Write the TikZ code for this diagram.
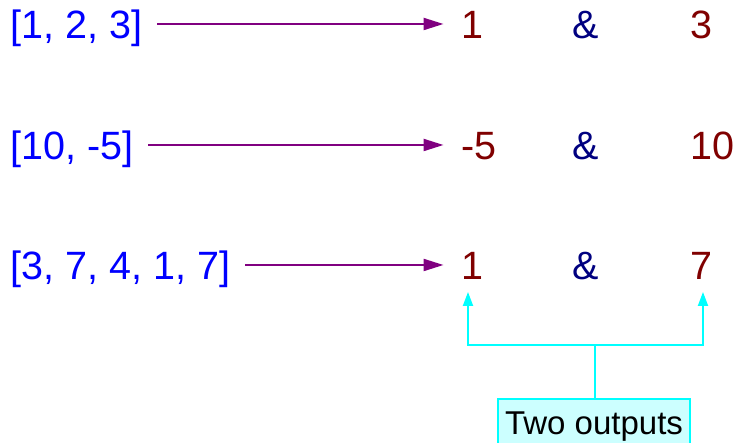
\documentclass[tikz,border=0pt]{standalone}
\usepackage{fontspec}
\setmainfont{Liberation Sans}
\usetikzlibrary{arrows.meta}
\definecolor{lblue}{RGB}{0,0,255}
\definecolor{dred}{RGB}{128,0,0}
\definecolor{navyc}{RGB}{0,0,128}
\definecolor{purp}{RGB}{128,0,128}
\definecolor{cyanc}{RGB}{0,255,255}
\definecolor{lcyan}{RGB}{204,255,255}
\tikzset{
  rowtxt/.style={inner sep=0pt, outer sep=0pt, anchor=west, font=\fontsize{39.5}{46}\selectfont, text height=28.3pt, text depth=0pt},
  listtxt/.style={rowtxt, text=lblue},
  restxt/.style={rowtxt, text=dred},
  amptxt/.style={rowtxt, text=navyc},
  parr/.style={draw=purp, line width=2.2pt, -{Triangle[length=20pt,width=12pt]}, shorten <=15pt, shorten >=18pt},
  carr/.style={draw=cyanc, line width=2pt, -{Triangle[length=14pt,width=10pt]}},
  cline/.style={draw=cyanc, line width=2pt},
  labelbox/.style={draw=cyanc, fill=lcyan, line width=2pt, minimum width=192pt, minimum height=60pt, inner sep=0pt, font=\fontsize{33}{40}\selectfont, text=black}
}
\begin{document}
\begin{tikzpicture}[x=1pt,y=1pt]
\useasboundingbox (0,0) rectangle (740,443);
\clip (0,0) rectangle (740,443);
% row 1
\node[listtxt] (l1) at (10.5,419) {[1, 2, 3]};
\node[restxt] (a1) at (461.5,419) {1};
\node[amptxt] (m1) at (572,419) {\&};
\node[restxt] (b1) at (690.5,419) {3};
% row 2
\node[listtxt] (l2) at (10.5,298) {[10, -5]};
\node[restxt] (a2) at (461.5,298) {-5};
\node[amptxt] (m2) at (572,298) {\&};
\node[restxt] (b2) at (690.5,298) {10};
% row 3
\node[listtxt] (l3) at (10.5,178) {[3, 7, 4, 1, 7]};
\node[restxt] (a3) at (461.5,178) {1};
\node[amptxt] (m3) at (572,178) {\&};
\node[restxt] (b3) at (690.5,178) {7};
% arrows
\draw[parr] (l1) -- (a1);
\draw[parr] (l2) -- (a2);
\draw[parr] (l3) -- (a3);
% label box
\node[labelbox, anchor=north] (box) at (594,45) {};
\node[inner sep=0pt, anchor=base, font=\fontsize{33}{40}\selectfont] (boxtxt) at (594,8) {Two outputs};
\coordinate (j) at (595,98);
\coordinate (t1) at (468,151);
\coordinate (t2) at (703,151);
\draw[cline] (box.north -| j) -- (j);
\draw[carr] (j) -| (t1);
\draw[carr] (j) -| (t2);
\end{tikzpicture}
\end{document}
